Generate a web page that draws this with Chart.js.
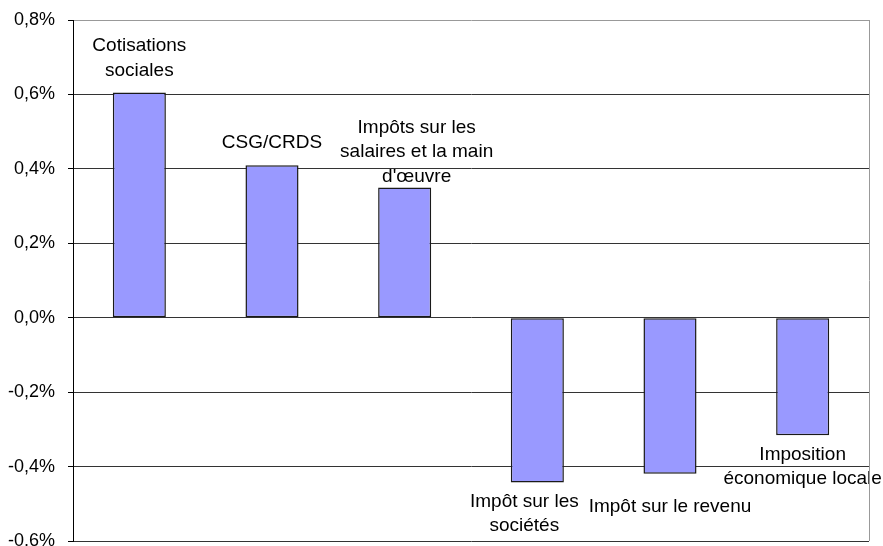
<!DOCTYPE html>
<html>
<head>
<meta charset="utf-8">
<script src="https://cdn.jsdelivr.net/npm/chart.js@4/dist/chart.umd.min.js"></script>
<style>
  html, body { margin: 0; padding: 0; background: #fff; overflow: hidden; }
  #wrap { width: 883px; height: 546px; }
</style>
</head>
<body>
<div id="wrap"><canvas id="taxChart"></canvas></div>
<script>
// Variation by tax type, in % of GDP
const categories = [
    ['Cotisations', 'sociales'],
    ['CSG/CRDS'],
    ['Impôts sur les', 'salaires et la main', "d'œuvre"],
    ['Impôt sur les', 'sociétés'],
    ['Impôt sur le revenu'],
    ['Imposition', 'économique locale']
];
const values = [0.605, 0.41, 0.35, -0.443, -0.419, -0.316];
const yTicks = [-0.6, -0.4, -0.2, 0, 0.2, 0.4, 0.6, 0.8];

// Hand placement of each label relative to its bar end (dx, dy)
const labelOffsets = [[0, 22], [0, 22], [12, 11], [-13, 19], [0, 33], [0, 19]];

function pct(v) {
    return v.toFixed(1).replace('.', ',') + '%';
}

// Names drawn above positive bars and below negative ones
const barLabels = {
    id: 'barLabels',
    afterDatasetsDraw(chart) {
        const ctx = chart.ctx;
        const meta = chart.getDatasetMeta(0);
        const lineH = 24.5;
        ctx.save();
        ctx.font = '19px "Liberation Sans", Arial, sans-serif';
        ctx.fillStyle = '#000';
        ctx.textAlign = 'center';
        ctx.textBaseline = 'middle';
        meta.data.forEach((bar, i) => {
            const lines = categories[i];
            const [dx, dy] = labelOffsets[i];
            const x = bar.x + dx;
            if (values[i] >= 0) {
                const last = bar.y - dy;
                lines.forEach((t, j) => ctx.fillText(t, x, last - (lines.length - 1 - j) * lineH));
            } else {
                const first = bar.y + dy;
                lines.forEach((t, j) => ctx.fillText(t, x, first + j * lineH));
            }
        });
        ctx.restore();
    }
};

// Thin grey frame line on the right of the plot
const rightEdge = {
    id: 'rightEdge',
    afterDraw(chart) {
        const { ctx, chartArea } = chart;
        ctx.save();
        ctx.strokeStyle = '#999';
        ctx.lineWidth = 1;
        ctx.beginPath();
        ctx.moveTo(Math.round(chartArea.right) + 0.5, chartArea.top);
        ctx.lineTo(Math.round(chartArea.right) + 0.5, chartArea.bottom);
        ctx.stroke();
        ctx.restore();
    }
};

const ctxTax = document.getElementById('taxChart').getContext('2d');
new Chart(ctxTax, {
    type: 'bar',
    data: {
        labels: categories.map(c => c.join(' ')),
        datasets: [{
            data: values,
            backgroundColor: '#9999ff',
            borderColor: '#1a1a1a',
            borderWidth: 1.5,
            borderSkipped: false,
            barPercentage: 0.8,
            categoryPercentage: 0.5
        }]
    },
    options: {
        responsive: true, maintainAspectRatio: false, animation: false,
        layout: { padding: { top: 20, right: 14, bottom: 5, left: 0 } },
        plugins: { legend: { display: false }, tooltip: { enabled: false } },
        scales: {
            x: { display: false },
            y: {
                min: -0.6, max: 0.8,
                afterBuildTicks: scale => { scale.ticks = yTicks.map(v => ({ value: v })); },
                afterFit: scale => {
                    scale.width = 73;
                    scale.paddingTop = 0;
                    scale.paddingBottom = 0;
                },
                border: { color: '#000', width: 1 },
                grid: {
                    color: c => (c.tick && c.tick.value === 0.8 ? '#999' : '#333'),
                    lineWidth: 1,
                    tickLength: 5,
                    tickColor: '#000'
                },
                ticks: {
                    padding: 13,
                    color: '#000',
                    font: { family: '"Liberation Sans", Arial, sans-serif', size: 18 },
                    callback: v => pct(v)
                }
            }
        }
    },
    plugins: [barLabels, rightEdge]
});
</script>
</body>
</html>
